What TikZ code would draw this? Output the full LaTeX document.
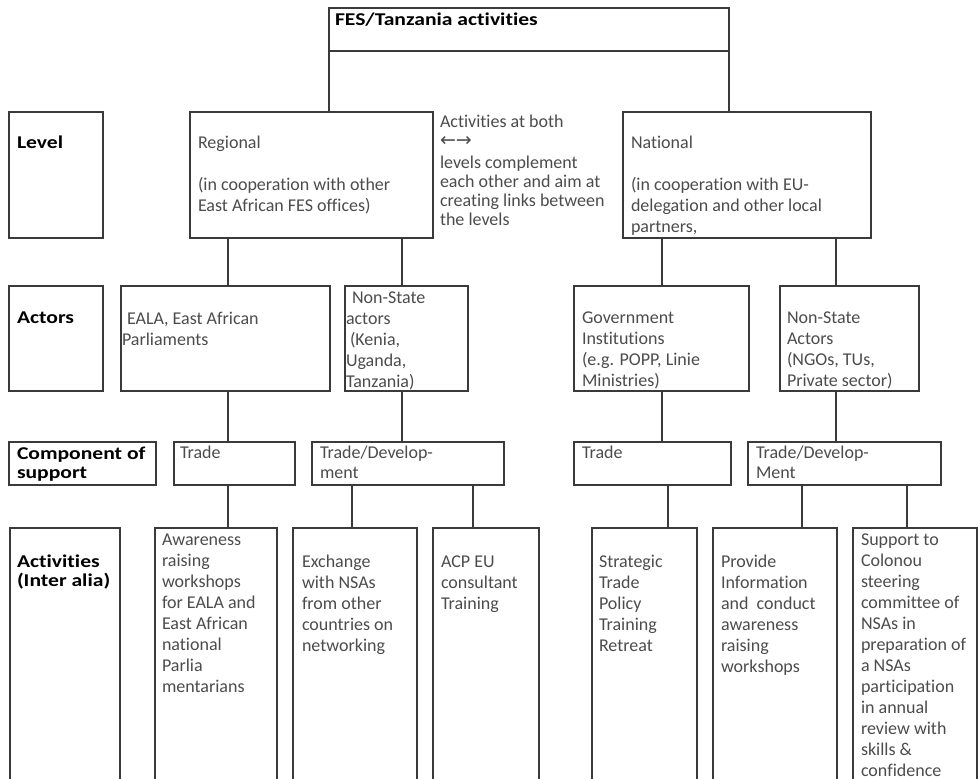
\documentclass[tikz,border=0pt]{standalone}
\usepackage{fontspec}
\setmainfont[Ligatures=NoCommon]{Carlito}
\newfontfamily\lblfont[FakeStretch=1.2,Ligatures=NoCommon]{Carlito}
\newfontfamily\symfont{DejaVu Sans}
\usetikzlibrary{fit}
\definecolor{linec}{HTML}{3A3A3A}
\definecolor{txtc}{HTML}{4C4C4C}
\newcommand\pb[1]{\parbox[t]{300pt}{#1}}
\begin{document}
\begin{tikzpicture}[x=1pt,y=-1pt,
  bx/.style={draw=linec, line width=1.3pt, inner sep=0pt, outer sep=0pt},
  ln/.style={draw=linec, line width=1.3pt},
  tx/.style={anchor=base west, inner sep=0pt, outer sep=0pt, text=txtc, font=\fontsize{18}{21}\selectfont},
  mtx/.style={tx, font=\fontsize{18}{19}\selectfont},
  lb/.style={anchor=base west, inner sep=0pt, outer sep=0pt, text=black, font=\lblfont\bfseries\fontsize{18}{19}\selectfont}]
\useasboundingbox (0,0) rectangle (980,779);
\fill[white] (0,0) rectangle (980,779);
\clip (0,0) rectangle (980,779);
% boxes
\node[bx, fit={(329,8) (729,51)}] (title) {};
\node[bx, fit={(9,112) (103,238)}] (lvl1) {};
\node[bx, fit={(190,112) (433,238)}] (reg) {};
\node[bx, fit={(623,112) (871,238)}] (nat) {};
\node[bx, fit={(9,286) (103,391)}] (lvl2) {};
\node[bx, fit={(121,286) (330,391)}] (eala) {};
\node[bx, fit={(345,286) (468,391)}] (nsa1) {};
\node[bx, fit={(574,286) (749,391)}] (gov) {};
\node[bx, fit={(780,286) (919,391)}] (nsa2) {};
\node[bx, fit={(9,442) (156,485)}] (lvl3) {};
\node[bx, fit={(174,442) (295,485)}] (tr1) {};
\node[bx, fit={(312,442) (504,485)}] (td1) {};
\node[bx, fit={(574,442) (731,485)}] (tr2) {};
\node[bx, fit={(748,442) (941,485)}] (td2) {};
\node[bx, fit={(10,528) (120,800)}] (lvl4) {};
\node[bx, fit={(155,528) (277,800)}] (aw) {};
\node[bx, fit={(293,528) (417,800)}] (ex) {};
\node[bx, fit={(433,528) (539,800)}] (acp) {};
\node[bx, fit={(592,528) (697,800)}] (st) {};
\node[bx, fit={(713,528) (837,800)}] (pr) {};
\node[bx, fit={(853,528) (977,800)}] (su) {};
% connector x positions
\coordinate (xa) at (228,0);
\coordinate (xb) at (402,0);
\coordinate (xc) at (352,0);
\coordinate (xd) at (473,0);
\coordinate (xe) at (662,0);
\coordinate (xf) at (668,0);
\coordinate (xg) at (836,0);
\coordinate (xh) at (802,0);
\coordinate (xi) at (907,0);
% connectors
\draw[ln] (title.south west) -- (reg.north -| title.south west);
\draw[ln] (title.south east) -- (nat.north -| title.south east);
\draw[ln] (reg.south -| xa) -- (eala.north -| xa);
\draw[ln] (reg.south -| xb) -- (nsa1.north -| xb);
\draw[ln] (eala.south -| xa) -- (tr1.north -| xa);
\draw[ln] (nsa1.south -| xb) -- (td1.north -| xb);
\draw[ln] (tr1.south -| xa) -- (aw.north -| xa);
\draw[ln] (td1.south -| xc) -- (ex.north -| xc);
\draw[ln] (td1.south -| xd) -- (acp.north -| xd);
\draw[ln] (nat.south -| xe) -- (gov.north -| xe);
\draw[ln] (nat.south -| xg) -- (nsa2.north -| xg);
\draw[ln] (gov.south -| xe) -- (tr2.north -| xe);
\draw[ln] (nsa2.south -| xg) -- (td2.north -| xg);
\draw[ln] (tr2.south -| xf) -- (st.north -| xf);
\draw[ln] (td2.south -| xh) -- (pr.north -| xh);
\draw[ln] (td2.south -| xi) -- (su.north -| xi);
% texts
\node[lb] (t-title) at (335,25) {FES/Tanzania activities};
\node[lb] (t-lvl1) at (17,148) {Level};
\node[lb] (t-lvl2) at (17,323) {Actors};
\node[lb] (t-lvl3) at (17,459) {\pb{Component of\\support}};
\node[lb] (t-lvl4) at (17,567) {\pb{Activities\\(Inter alia)}};
\node[tx] (t-reg) at (198,148) {\pb{Regional\\[21pt](in cooperation with other\\East African FES offices)}};
\node[mtx] (t-mid) at (440,127) {\pb{Activities at both\\{\symfont\fontsize{19}{19}\selectfont ←→}\\[3pt]levels complement\\each other and aim at\\creating links between\\the levels}};
\node[tx] (t-nat) at (631,148) {\pb{National\\[21pt](in cooperation with EU-\\delegation and other local\\partners,}};
\node[tx] (t-eala) at (122,324) {\pb{\hspace*{5pt}EALA, East African\\Parliaments}};
\node[tx] (t-nsa1) at (346,303) {\pb{\hspace*{6pt}Non-State\\actors\\\hspace*{4pt}(Kenia,\\Uganda,\\Tanzania)}};
\node[tx] (t-gov) at (582,323) {\pb{Government\\Institutions\\(e.g. POPP, Linie\\Ministries)}};
\node[tx] (t-nsa2) at (787,323) {\pb{Non-State\\Actors\\(NGOs, TUs,\\Private sector)}};
\node[tx] (t-tr1) at (180,458) {Trade};
\node[tx, font=\fontsize{18}{20}\selectfont] (t-td1) at (320,458) {\pb{Trade/Develop-\\ment}};
\node[tx] (t-tr2) at (582,458) {Trade};
\node[tx, font=\fontsize{18}{20}\selectfont] (t-td2) at (756,458) {\pb{Trade/Develop-\\Ment}};
\node[tx] (t-aw) at (162,545) {\pb{Awareness\\raising\\workshops\\for EALA and\\East African\\national\\Parlia\\mentarians}};
\node[tx] (t-ex) at (302,567) {\pb{Exchange\\with NSAs\\from other\\countries on\\networking}};
\node[tx] (t-acp) at (441,567) {\pb{ACP EU\\consultant\\Training}};
\node[tx] (t-st) at (599,567) {\pb{Strategic\\Trade\\Policy\\Training\\Retreat}};
\node[tx] (t-pr) at (721,567) {\pb{Provide\\Information\\and~~conduct\\awareness\\raising\\workshops}};
\node[tx] (t-su) at (861,545) {\pb{Support to\\Colonou\\steering\\committee of\\NSAs in\\preparation of\\a NSAs\\participation\\in annual\\review with\\skills \&\\confidence}};
\end{tikzpicture}
\end{document}
